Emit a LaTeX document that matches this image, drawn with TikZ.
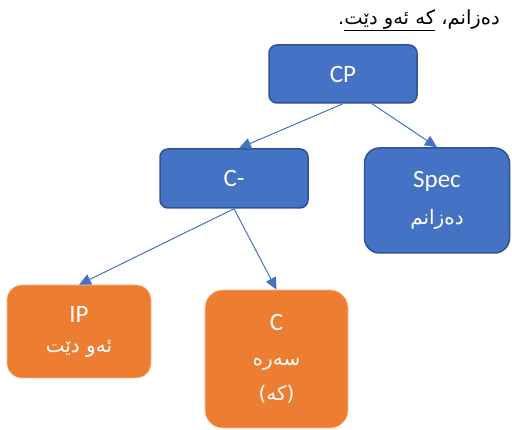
\documentclass[tikz,border=0pt]{standalone}
\usepackage{fontspec}
\setmainfont{Carlito}
\newfontfamily\arabicfont[Script=Arabic]{DejaVu Sans}
\TeXXeTstate=1
\usetikzlibrary{arrows.meta}
\definecolor{bluefill}{RGB}{68,114,196}
\definecolor{blueedge}{RGB}{47,82,143}
\definecolor{orangefill}{RGB}{237,125,49}
\definecolor{orangeedge}{RGB}{246,190,152}
\tikzset{
  bluebox/.style={draw=blueedge, line width=1.5pt, fill=bluefill, text=white, align=center, inner sep=0pt},
  orangebox/.style={draw=orangeedge, line width=0.6pt, fill=orangefill, text=white, align=center, inner sep=0pt},
  link/.style={draw=bluefill, line width=1pt, -{Triangle[length=12pt,width=11pt]}},
}
\newcommand{\arb}[1]{{\arabicfont\fontsize{20}{30}\selectfont\beginR #1\endR}}
\begin{document}
\begin{tikzpicture}[x=1pt,y=1pt]
\useasboundingbox (0,0) rectangle (512,-430);
\node[anchor=center, font=\arabicfont\fontsize{19.5}{22}\selectfont] (title) at (419,-20)
  {\beginR دەزانم، \underline{\beginR کە ئەو دێت\endR}.\endR};
\node[bluebox, rounded corners=8pt, minimum width=148pt, minimum height=58pt, font=\fontsize{25}{30}\selectfont] (CP) at (343,-74) {CP};
\node[bluebox, rounded corners=8pt, minimum width=148pt, minimum height=59pt, font=\fontsize{25}{30}\selectfont] (Cm) at (234,-178.5) {C-};
\node[bluebox, rounded corners=15pt, minimum width=145pt, minimum height=105pt, font=\fontsize{25}{36}\selectfont] (Spec) at (437,-200.5)
  {Spec\\[1pt]\arb{دەزانم}};
\node[orangebox, rounded corners=15pt, minimum width=144pt, minimum height=93pt, font=\fontsize{25}{32}\selectfont] (IP) at (79,-331.5)
  {IP\\[-2pt]\arb{ئەو دێت}};
\node[orangebox, rounded corners=18pt, minimum width=143pt, minimum height=138pt, font=\fontsize{25}{35}\selectfont] (C) at (276.5,-359)
  {C\\\arb{سەرە}\\\arb{(کە)}};
\draw[link] (CP.south) -- ([xshift=5pt]Cm.north);
\draw[link] ([xshift=29pt]CP.south) -- (Spec.north);
\draw[link] (Cm.south) -- (IP.north);
\draw[link] (Cm.south) -- (C.north);
\end{tikzpicture}
\end{document}
